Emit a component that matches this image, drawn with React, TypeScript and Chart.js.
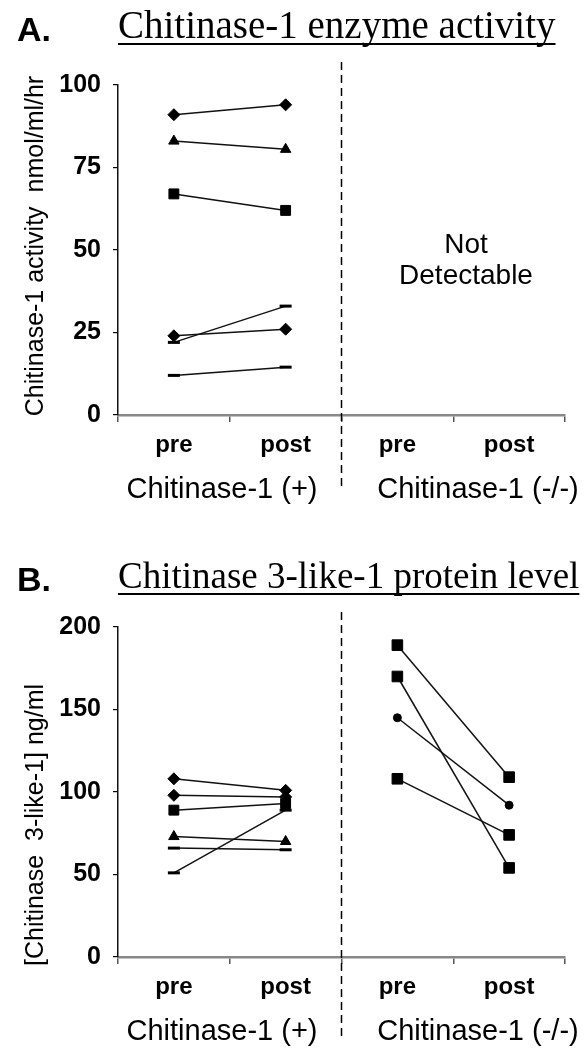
import React, { useEffect, useRef } from "react";
import { Chart, registerables } from "chart.js";
Chart.register(...registerables);

const SANS = "'Liberation Sans', Arial, sans-serif";
const SERIF = "'Liberation Serif', 'Times New Roman', serif";

// ---------- data ----------
const categories = ["pre", "post", "pre", "post"];
const groupLabels = ["Chitinase-1 (+)", "Chitinase-1 (-/-)"];

// Panel A: Chitinase-1 enzyme activity (nmol/ml/hr)
const enzymeA1 = [91, 94, null, null];
const enzymeA2 = [83, 80.5, null, null];
const enzymeA3 = [67, 62, null, null];
const enzymeA4 = [24, 26, null, null];
const enzymeA5 = [22, 33, null, null];
const enzymeA6 = [12, 14.5, null, null];
const enzymeMarkers = ["rectRot", "triangle", "rect", "rectRot", "line", "line"];
const enzymeTicks = [0, 25, 50, 75, 100];

// Panel B: Chitinase 3-like-1 protein level (ng/ml)
const proteinB1 = [108, 101, null, null];
const proteinB2 = [98, 97, null, null];
const proteinB3 = [89, 93, null, null];
const proteinB4 = [73, 70, null, null];
const proteinB5 = [66, 65, null, null];
const proteinB6 = [51, 89, null, null];
const proteinB7 = [null, null, 189, 109];
const proteinB8 = [null, null, 170, 54];
const proteinB9 = [null, null, 145, 92];
const proteinB10 = [null, null, 108, 74];
const proteinMarkers = ["rectRot", "rectRot", "rect", "triangle", "line", "line", "rect", "rect", "circle", "rect"];
const proteinTicks = [0, 50, 100, 150, 200];

const panelA = {
  letter: "A.",
  title: "Chitinase-1 enzyme activity",
  titleSize: 39,
  yTitle: "Chitinase-1 activity  nmol/ml/hr",
  series: [enzymeA1, enzymeA2, enzymeA3, enzymeA4, enzymeA5, enzymeA6],
  markers: enzymeMarkers,
  ticks: enzymeTicks,
  note: ["Not", "Detectable"] as string[] | null,
  top: 85,
  xHeight: 110,
  titleBase: 38,
  yTitleCenter: 246,
  dashTop: 62,
  dashBottom: 487,
};

const panelB = {
  letter: "B.",
  title: "Chitinase 3-like-1 protein level",
  titleSize: 37,
  yTitle: "[Chitinase  3-like-1] ng/ml",
  series: [proteinB1, proteinB2, proteinB3, proteinB4, proteinB5, proteinB6, proteinB7, proteinB8, proteinB9, proteinB10],
  markers: proteinMarkers,
  ticks: proteinTicks,
  note: null as string[] | null,
  top: 102,
  xHeight: 93,
  titleBase: 63,
  yTitleCenter: 300,
  dashTop: 87,
  dashBottom: 515,
};

function markerProps(m: string, big: boolean) {
  switch (m) {
    case "rectRot":
      return { pointStyle: "rectRot", pointRadius: 6, pointBorderWidth: 1 };
    case "triangle":
      return { pointStyle: "triangle", pointRadius: 6, pointBorderWidth: 1 };
    case "rect":
      return { pointStyle: "rect", pointRadius: big ? 7.5 : 7, pointBorderWidth: 1 };
    case "circle":
      return { pointStyle: "circle", pointRadius: 4, pointBorderWidth: 1 };
    default:
      return { pointStyle: "line", pointRadius: 6, pointBorderWidth: 3 };
  }
}

function Panel({ cfg }: { cfg: typeof panelA }) {
  const ref = useRef<HTMLCanvasElement>(null);
  useEffect(() => {
    const canvas = ref.current!;
    const overlay = {
      id: "overlay",
      afterDraw(chart: any) {
        const ctx = chart.ctx;
        const ca = chart.chartArea;
        const xs = chart.scales.x;
        ctx.save();
        ctx.fillStyle = "#000";
        ctx.strokeStyle = "#000";
        // panel letter
        ctx.font = `bold 34px ${SANS}`;
        ctx.textAlign = "left";
        ctx.textBaseline = "alphabetic";
        ctx.fillText(cfg.letter, 17, cfg.titleBase + 3);
        // title (underlined)
        ctx.font = `${cfg.titleSize}px ${SERIF}`;
        ctx.fillText(cfg.title, 118, cfg.titleBase);
        const tw = ctx.measureText(cfg.title).width;
        ctx.lineWidth = 2;
        ctx.beginPath();
        ctx.moveTo(118, cfg.titleBase + 6);
        ctx.lineTo(118 + tw, cfg.titleBase + 6);
        ctx.stroke();
        // dashed separator
        const mid = (xs.getPixelForValue(1) + xs.getPixelForValue(2)) / 2;
        ctx.setLineDash([8, 5]);
        ctx.lineWidth = 1.5;
        ctx.beginPath();
        ctx.moveTo(mid, cfg.dashTop);
        ctx.lineTo(mid, cfg.dashBottom);
        ctx.stroke();
        ctx.setLineDash([]);
        // y title
        ctx.font = `25px ${SANS}`;
        ctx.textAlign = "center";
        ctx.textBaseline = "middle";
        ctx.save();
        ctx.translate(36, cfg.yTitleCenter);
        ctx.rotate(-Math.PI / 2);
        ctx.fillText(cfg.yTitle, 0, 0);
        ctx.restore();
        // group labels
        ctx.font = `29px ${SANS}`;
        ctx.fillText(groupLabels[0], 222, ca.bottom + 75);
        ctx.fillText(groupLabels[1], 478, ca.bottom + 75);
        // note
        if (cfg.note) {
          ctx.font = `28px ${SANS}`;
          ctx.fillText(cfg.note[0], 466, 245);
          ctx.fillText(cfg.note[1], 466, 276);
        }
        ctx.restore();
      },
    };
    const chart = new Chart(canvas, {
      type: "line",
      data: {
        labels: categories,
        datasets: cfg.series.map((values, i) => ({
          data: values,
          borderColor: "#111",
          borderWidth: 1.5,
          backgroundColor: "#000",
          pointBackgroundColor: "#000",
          pointBorderColor: "#000",
          spanGaps: false,
          ...markerProps(cfg.markers[i], values[0] === null),
        })),
      },
      options: {
        animation: false,
        responsive: false,
        devicePixelRatio: 1,
        layout: { padding: { left: 0, right: 21, top: cfg.top, bottom: 0 } },
        plugins: { legend: { display: false }, tooltip: { enabled: false }, title: { display: false } },
        scales: {
          x: {
            type: "category",
            offset: true,
            grid: { offset: true, drawOnChartArea: false, drawTicks: true, tickLength: 7, color: "#555", lineWidth: 1.5 },
            border: { display: true, color: "#888", width: 2.5 },
            ticks: { color: "#000", font: { family: SANS, size: 24, weight: "bold" }, padding: 9 },
            afterFit: (s: any) => { s.height = cfg.xHeight; },
          },
          y: {
            min: cfg.ticks[0],
            max: cfg.ticks[cfg.ticks.length - 1],
            afterBuildTicks: (s: any) => { s.ticks = cfg.ticks.map((v) => ({ value: v })); },
            grid: { drawOnChartArea: false, drawTicks: true, tickLength: 5, color: "#000", lineWidth: 1.2 },
            border: { display: true, color: "#111", width: 1.5 },
            ticks: { color: "#000", font: { family: SANS, size: 25, weight: "bold" }, padding: 12 },
            afterFit: (s: any) => { s.width = 118; },
          },
        },
      },
      plugins: [overlay],
    } as any);
    return () => chart.destroy();
  }, [cfg]);
  return <canvas ref={ref} width={586} height={525} style={{ display: "block", width: 586, height: 525 }} />;
}

export default function App() {
  return (
    <div style={{ position: "absolute", left: 0, top: 0, width: 586, height: 1050, background: "#fff" }}>
      <Panel cfg={panelA} />
      <Panel cfg={panelB} />
    </div>
  );
}
